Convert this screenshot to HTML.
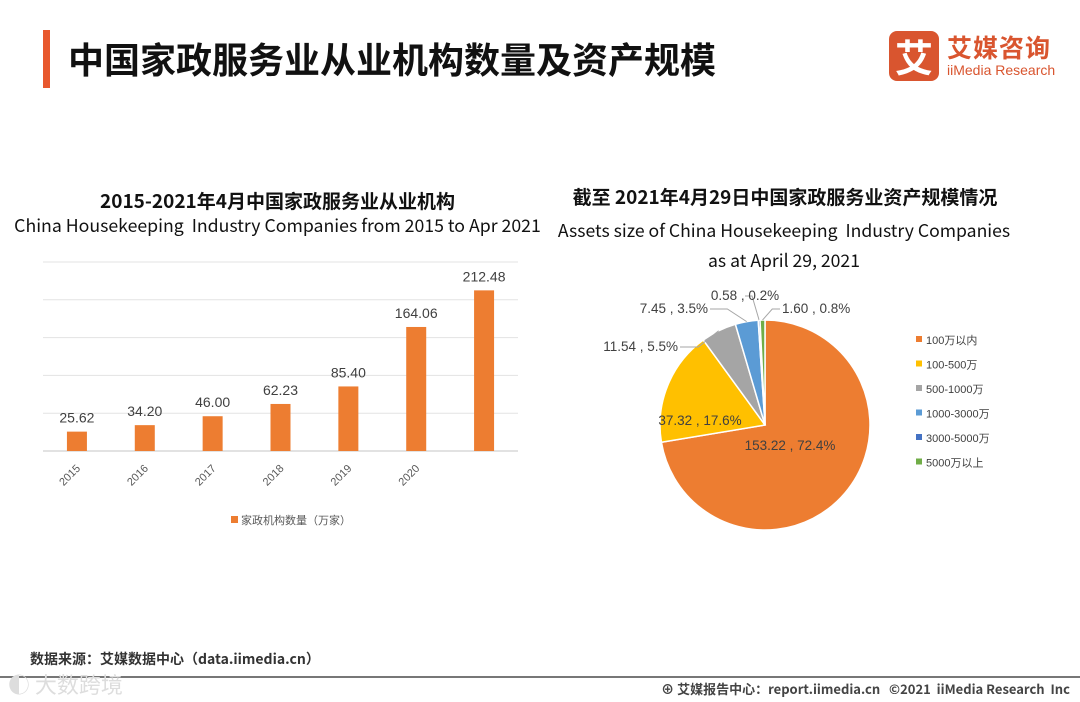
<!DOCTYPE html>
<html><head><meta charset="utf-8">
<style>
body{margin:0;width:1080px;height:702px;background:#fff;position:relative;overflow:hidden;font-family:"Liberation Sans","Noto Sans CJK SC",sans-serif;}
.abs{position:absolute;}
</style></head><body>
<div class="abs" style="left:43px;top:30px;width:7px;height:58px;background:#e8582e"></div>
<div class="abs" style="left:68px;top:32px;font-size:36px;font-weight:bold;color:#111;font-family:'Noto Sans CJK SC',sans-serif;">中国家政服务业从业机构数量及资产规模</div>
<div class="abs" style="left:889px;top:31px;width:170px;height:50px;">
  <div style="position:absolute;left:0;top:0;width:50px;height:50px;background:#d9552f;border-radius:8px;color:#fff;font-size:38px;font-weight:bold;text-align:center;line-height:50px;font-family:'Noto Sans CJK SC',sans-serif">艾</div>
  <div style="position:absolute;left:58px;top:-2px;color:#d9552f;font-size:25px;font-weight:bold;font-family:'Noto Sans CJK SC',sans-serif;letter-spacing:1px">艾媒咨询</div>
  <div style="position:absolute;left:58px;top:31px;color:#d9552f;font-size:14px;white-space:nowrap">iiMedia Research</div>
</div>
<div class="abs" style="left:0;width:555px;top:187px;text-align:center;font-size:19px;font-weight:bold;color:#111;font-family:'Noto Sans CJK SC',sans-serif;">2015-2021年4月中国家政服务业从业机构</div>
<div class="abs" style="left:0;width:555px;top:212px;text-align:center;font-size:17.7px;color:#111;font-family:'Noto Sans CJK SC',sans-serif;white-space:nowrap">China Housekeeping&nbsp; Industry Companies from 2015 to Apr 2021</div>
<div class="abs" style="left:550px;width:470px;top:183px;text-align:center;font-size:19px;font-weight:bold;color:#111;font-family:'Noto Sans CJK SC',sans-serif;white-space:nowrap">截至 2021年4月29日中国家政服务业资产规模情况</div>
<div class="abs" style="left:549px;width:470px;top:216px;text-align:center;font-size:17.6px;color:#111;line-height:30px;font-family:'Noto Sans CJK SC',sans-serif;white-space:nowrap">Assets size of China Housekeeping&nbsp; Industry Companies<br>as at April 29, 2021</div>
<svg id="chart" class="abs" style="left:0;top:0" width="1080" height="702"></svg>
<div class="abs" style="left:30px;top:649px;font-size:14px;font-weight:bold;color:#333;font-family:'Noto Sans CJK SC',sans-serif;">数据来源：艾媒数据中心（data.iimedia.cn）</div>
<div class="abs" style="left:0;top:676px;width:1080px;height:2px;background:#777"></div>
<div class="abs" style="left:8px;top:668px;font-size:22px;color:#ddd;font-family:'Noto Sans CJK SC',sans-serif;">◐ 大数跨境</div>
<div class="abs" style="right:10px;top:679px;font-size:13px;color:#444;font-weight:bold;font-family:'Noto Sans CJK SC',sans-serif;">⊕ 艾媒报告中心：report.iimedia.cn&nbsp;&nbsp; ©2021&nbsp; iiMedia Research&nbsp; Inc</div>
<script>
const years=["2015","2016","2017","2018","2019","2020",""];
const counts=[25.62,34.20,46.00,62.23,85.40,164.06,212.48];
const yTicks=[0,50,100,150,200,250];
const pieCats=["100万以内","100-500万","500-1000万","1000-3000万","3000-5000万","5000万以上"];
const pieVals=[153.22,37.32,11.54,7.45,0.58,1.60];
const piePct=["72.4%","17.6%","5.5%","3.5%","0.2%","0.8%"];
const pieColors=["#ed7d31","#ffc000","#a5a5a5","#5b9bd5","#4472c4","#70ad47"];
const NS="http://www.w3.org/2000/svg";
const svg=document.getElementById('chart');
function mk(t,a,p){const e=document.createElementNS(NS,t);for(const k in a)e.setAttribute(k,a[k]);(p||svg).appendChild(e);return e;}
const x0=43,x1=518,yb=451,yt=262,ymax=250;
const Y=v=>yb-(v/ymax)*(yb-yt);
const step=(x1-x0)/years.length;
const X=i=>x0+step*(i+0.5);
yTicks.forEach(t=>{const l=mk('line',{x1:x0,x2:x1,y1:Y(t),y2:Y(t),stroke:t===0?'#d9d9d9':'#e3e3e3','stroke-width':t===0?1.5:1});

});
counts.forEach((v,i)=>{const r=mk('rect',{x:X(i)-10,y:Y(v),width:20,height:yb-Y(v),fill:'#ed7d31'});


const t=mk('text',{x:X(i),y:Y(v)-9,'text-anchor':'middle','font-size':14,fill:'#404040'});t.textContent=v.toFixed(2);


if(years[i]){const a=mk('text',{x:X(i)+4,y:yb+18,'text-anchor':'end','font-size':11,fill:'#595959',transform:`rotate(-45 ${X(i)+4} ${yb+18})`});a.textContent=years[i];

}});
const lg=mk('rect',{x:231,y:516,width:7,height:7,fill:'#ed7d31'});


const lt=mk('text',{x:241,y:524,'font-size':11,fill:'#595959'});lt.textContent='家政机构数量（万家）';


const cx=765,cy=425,R=105;
const tot=pieVals.reduce((a,b)=>a+b,0);
let ang=-Math.PI/2;
const P=(a,r)=>[cx+r*Math.cos(a),cy+r*Math.sin(a)];
const labelPos=[[790,450,'middle',0],[700,425,'middle',0],[678,351,'end',1],[708,313,'end',1],[745,300,'middle',1],[782,313,'start',1]];
pieVals.forEach((v,i)=>{const a0=ang,a1=ang+v/tot*2*Math.PI;ang=a1;
const [sx,sy]=P(a0,R),[ex,ey]=P(a1,R);const big=(a1-a0)>Math.PI?1:0;
const p=mk('path',{d:`M${cx},${cy} L${sx},${sy} A${R},${R} 0 ${big} 1 ${ex},${ey} Z`,fill:pieColors[i],stroke:'#fff','stroke-width':1.5});


const lp=labelPos[i];const mid=(a0+a1)/2;
if(lp[3]){const [ax,ay]=P(mid,R);const ln=mk('polyline',{points:`${ax},${ay} ${ax+(lp[0]-ax)*0.5},${lp[1]-4} ${lp[0]+(lp[2]==='end'?2:lp[2]==='start'?-2:0)},${lp[1]-4}`,fill:'none',stroke:'#a6a6a6','stroke-width':1});

}
const t=mk('text',{x:lp[0],y:lp[1],'text-anchor':lp[2],'font-size':13.5,fill:'#404040'});t.textContent=v.toFixed(2)+' , '+piePct[i];

});
pieCats.forEach((c,i)=>{const y=341+i*24.5;
const r=mk('rect',{x:916,y:y-5,width:6,height:6,fill:pieColors[i]});


const t=mk('text',{x:926,y:y+3,'font-size':11,fill:'#404040'});t.textContent=c;

});
</script>
</body></html>
